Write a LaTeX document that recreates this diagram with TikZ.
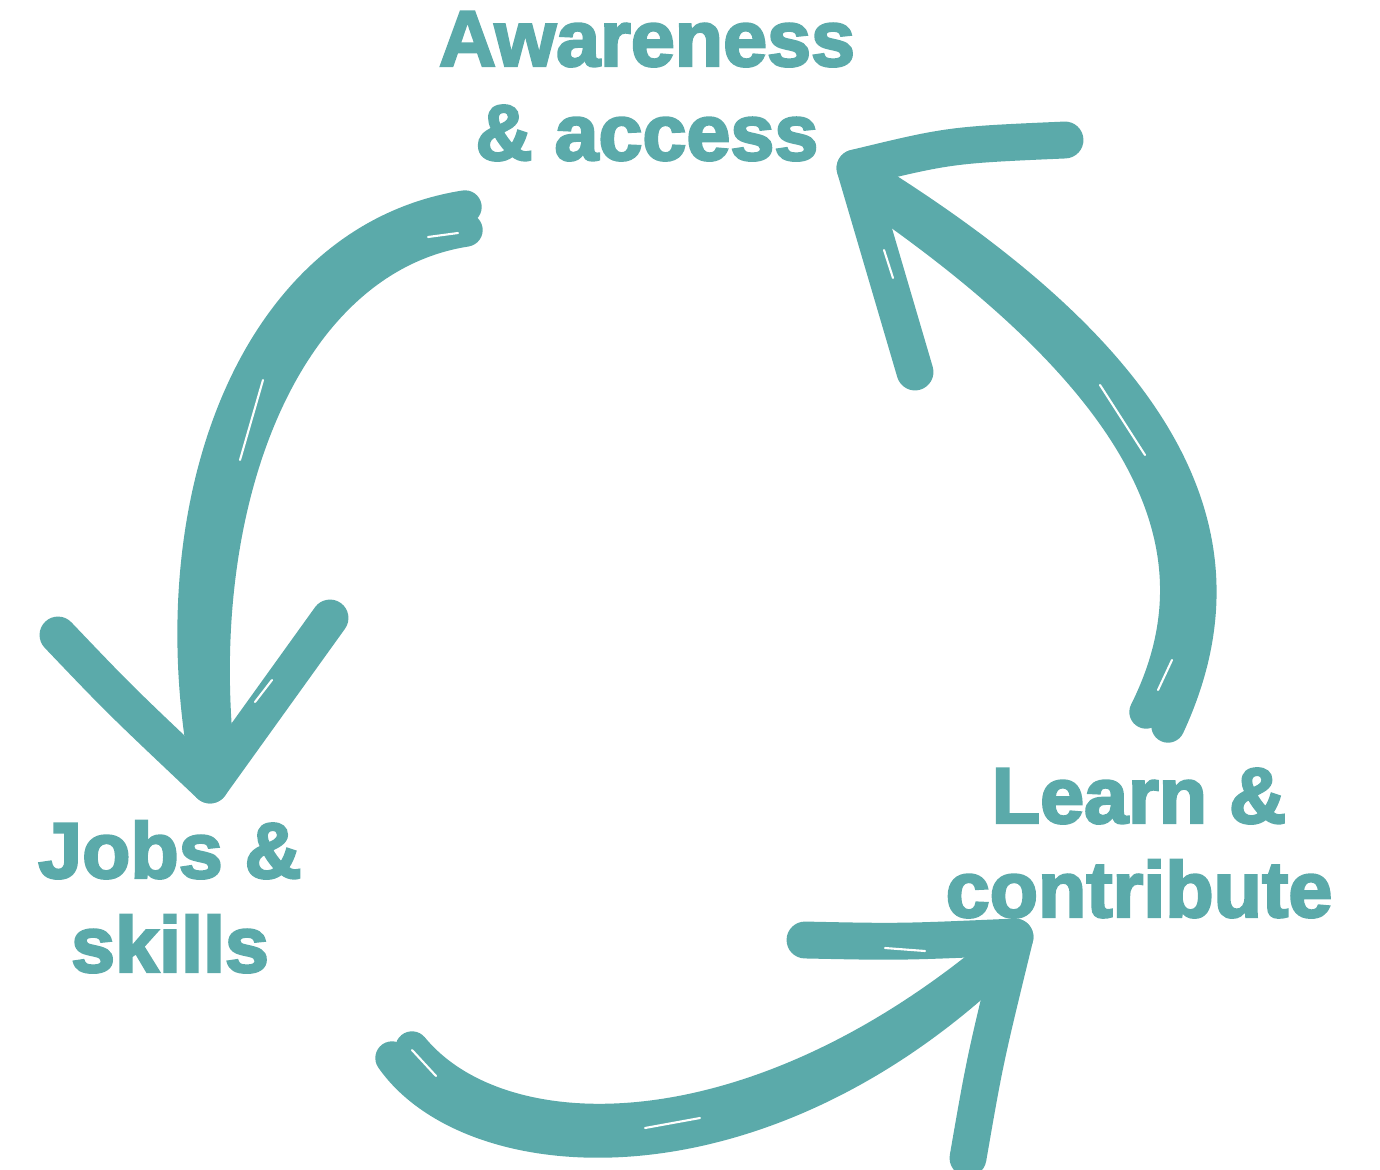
\documentclass[tikz,border=0pt]{standalone}
\usepackage{fontspec}
\newfontfamily\labelfont{Liberation Sans Bold}[FakeBold=3]
\usetikzlibrary{positioning}
\definecolor{cycleteal}{HTML}{5BAAAA}

\begin{document}
\begin{tikzpicture}[x=0.02cm, y=-0.02cm,
  label/.style={align=center, inner sep=0pt, text=cycleteal,
    font=\labelfont\fontsize{45}{53.5}\selectfont},
  stroke/.style={draw=cycleteal, line width=19pt, line cap=round,
    line join=round},
  barb/.style={draw=cycleteal, line width=21pt, line cap=round},
  sliver/.style={draw=white, line width=1.2pt, line cap=round}]
\useasboundingbox (0,0) rectangle (1380,1170);
\node[label, anchor=base] (aware) at (647,160) {Awareness\\\& access};
\node[label, anchor=base] (learn) at (1139,917) {Learn \&\\contribute};
\node[label, anchor=base] (jobs) at (170,972) {Jobs \&\\skills};
% awareness to jobs
\coordinate (tipA) at (210,785);
\draw[stroke] (465,207) .. controls (255,240) and (160,500) .. (205,760);
\draw[stroke] (466,230) .. controls (285,258) and (190,500) .. (218,760);
\draw[barb] (58,635) .. controls (120,700) .. (tipA);
\draw[barb] (330,618) -- (tipA);
\draw[sliver] (263,380) -- (240,460);
\draw[sliver] (428,237) -- (458,233);
\draw[sliver] (272,680) -- (255,702);
% jobs to learn
\coordinate (tipB) at (1015,937);
\draw[stroke] (392,1058) .. controls (470,1170) and (750,1195) .. (995,965);
\draw[stroke] (412,1048) .. controls (500,1155) and (750,1160) .. (1000,950);
\draw[barb] (805,940) .. controls (900,942) .. (tipB);
\draw[barb] (968,1158) .. controls (985,1060) .. (tipB);
\draw[sliver] (645,1128) -- (700,1118);
\draw[sliver] (412,1050) -- (436,1076);
\draw[sliver] (885,948) -- (925,951);
% learn to awareness
\coordinate (tipC) at (855,168);
\draw[stroke] (1168,726) .. controls (1245,560) and (1195,385) .. (880,185);
\draw[stroke] (1146,712) .. controls (1222,560) and (1165,400) .. (885,203);
\draw[barb] (tipC) .. controls (950,145) .. (1065,140);
\draw[barb] (tipC) -- (915,372);
\draw[sliver] (1100,385) -- (1145,455);
\draw[sliver] (1172,660) -- (1158,690);
\draw[sliver] (884,250) -- (893,278);
\end{tikzpicture}
\end{document}
